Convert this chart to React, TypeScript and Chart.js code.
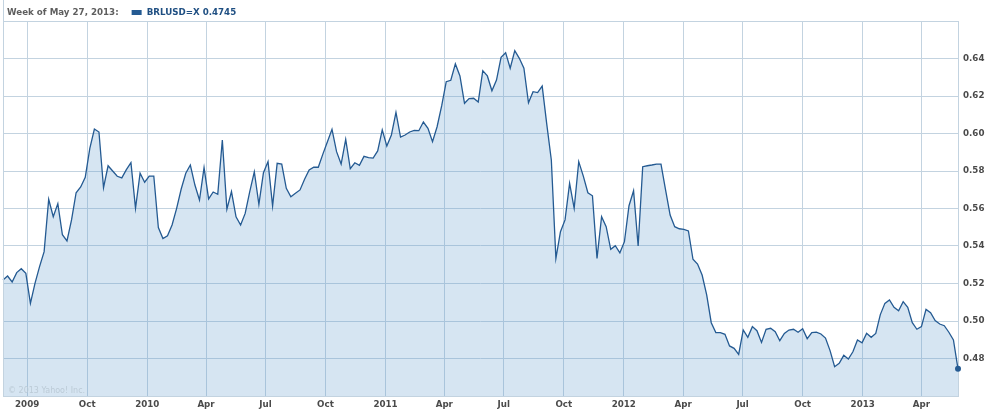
import React, { useEffect, useRef } from "react";
import { Chart, registerables } from "chart.js";

Chart.register(...registerables);

// ---- data ----
const headerDate = "Week of May 27, 2013:";
const seriesName = "BRLUSD=X";
const lastValueText = "0.4745";
const copyright = "\u00A9 2013 Yahoo! Inc.";

// first weekly point: week of May 25, 2009
const startYear = 2009;
const startMonth = 4; // May (0-based)
const startDay = 25;

const values2009 = [
  0.5219, 0.524, 0.5208, 0.5258, 0.5279, 0.5254, 0.5094, 0.5201, 0.529, 0.537,
  0.5649, 0.5556, 0.5626, 0.546, 0.5427, 0.5539, 0.5684, 0.5715, 0.5766, 0.5921,
  0.6024, 0.6008, 0.5711, 0.5828, 0.58, 0.5772, 0.5763, 0.5807, 0.5844, 0.5601,
  0.5788, 0.574,
];
const values2010 = [
  0.5773, 0.5773, 0.5498, 0.544, 0.5455, 0.5512, 0.5601, 0.5704, 0.5788, 0.5832,
  0.5725, 0.5645, 0.5818, 0.5651, 0.5688, 0.5676, 0.5965, 0.5596, 0.569, 0.5556,
  0.5512, 0.5574, 0.569, 0.5796, 0.5622, 0.5791, 0.585, 0.5613, 0.5841, 0.5837,
  0.5708, 0.5663, 0.5681, 0.5699, 0.5756, 0.5805, 0.582, 0.582, 0.589, 0.5956,
  0.6022, 0.5903, 0.5837, 0.5969, 0.5812, 0.5844, 0.583, 0.5878, 0.5871, 0.5869,
  0.5907, 0.6019,
];
const values2011 = [
  0.5933, 0.5992, 0.6113, 0.5981, 0.5992, 0.6008, 0.6017, 0.6015, 0.6061, 0.6028,
  0.5956, 0.6036, 0.6147, 0.6276, 0.6284, 0.6371, 0.6307, 0.6161, 0.6186, 0.6188,
  0.6168, 0.6335, 0.6307, 0.6228, 0.6285, 0.6406, 0.6431, 0.6348, 0.6442, 0.6401,
  0.6348, 0.6164, 0.6223, 0.6218, 0.6253, 0.605, 0.5859, 0.5334, 0.5476, 0.5539,
  0.5734, 0.5601, 0.585, 0.5773, 0.5684, 0.5668, 0.5334, 0.5556, 0.5503, 0.5382,
  0.5402, 0.5364,
];
const values2012 = [
  0.5423, 0.5615, 0.5695, 0.54, 0.5823, 0.5828, 0.5832, 0.5837, 0.5837, 0.5699,
  0.5565, 0.5503, 0.5492, 0.5489, 0.548, 0.5329, 0.5304, 0.5245, 0.5139, 0.4991,
  0.4938, 0.4938, 0.4929, 0.4867, 0.4854, 0.4822, 0.4952, 0.4913, 0.497, 0.4948,
  0.4886, 0.4956, 0.4961, 0.4943, 0.4895, 0.4934, 0.4952, 0.4956, 0.494, 0.4959,
  0.4906, 0.4938, 0.4941, 0.4931, 0.4909, 0.4842, 0.4756, 0.4774, 0.4817, 0.4797,
  0.4836, 0.4899,
];
const values2013 = [
  0.4884, 0.4934, 0.4913, 0.4934, 0.5034, 0.5094, 0.5112, 0.5073, 0.5055, 0.5103,
  0.5073, 0.4991, 0.4956, 0.497, 0.5062, 0.5044, 0.5002, 0.4984, 0.4975, 0.494,
  0.4899, 0.4745,
];

// x-axis gridline dates [year, month(0-based)] and their labels
const tickDates: [number, number][] = [
  [2009, 6], [2009, 9], [2010, 0], [2010, 3], [2010, 6], [2010, 9],
  [2011, 0], [2011, 3], [2011, 6], [2011, 9], [2012, 0], [2012, 3],
  [2012, 6], [2012, 9], [2013, 0], [2013, 3],
];
const tickLabels = [
  "2009", "Oct", "2010", "Apr", "Jul", "Oct", "2011", "Apr", "Jul", "Oct",
  "2012", "Apr", "Jul", "Oct", "2013", "Apr",
];
const yTickValues = [0.46, 0.48, 0.5, 0.52, 0.54, 0.56, 0.58, 0.6, 0.62, 0.64, 0.66];
const yMin = 0.46;
const yMax = 0.66;

// ---- styles ----
const LINE = "#245a92";
const FILL = "rgba(95,155,205,0.26)";
const GRID = "#c3d3e0";
const AXIS_TEXT = "#4a4a4a";
const HEADER_TEXT = "#5e5e5e";
const FONT_FAMILY = "'DejaVu Sans', Verdana, sans-serif";

const W = 993;
const H = 412;

export default function App() {
  const ref = useRef<HTMLCanvasElement | null>(null);

  useEffect(() => {
    const canvas = ref.current;
    if (!canvas) return;
    const DAY = 86400000;
    const start = Date.UTC(startYear, startMonth, startDay);
    const all = [...values2009, ...values2010, ...values2011, ...values2012, ...values2013];
    const points = all.map((v, i) => ({ x: i * 7, y: v }));
    const xMax = (all.length - 1) * 7;
    const tickVals = tickDates.map(([y, m]) => (Date.UTC(y, m, 1) - start) / DAY);
    const lastIndex = all.length - 1;

    const decor = {
      id: "decor",
      afterDraw(chart: any) {
        const ctx = chart.ctx as CanvasRenderingContext2D;
        const area = chart.chartArea;
        const xs = chart.scales.x;
        ctx.save();
        // left frame line
        ctx.strokeStyle = GRID;
        ctx.lineWidth = 1;
        ctx.beginPath();
        ctx.moveTo(Math.round(area.left) + 0.5, 0);
        ctx.lineTo(Math.round(area.left) + 0.5, area.bottom);
        ctx.stroke();

        // x labels
        ctx.font = `bold 8.7px ${FONT_FAMILY}`;
        ctx.fillStyle = AXIS_TEXT;
        ctx.textBaseline = "alphabetic";
        ctx.textAlign = "left";
        tickVals.forEach((v, i) => {
          const px = xs.getPixelForValue(v);
          const text = tickLabels[i];
          const w = ctx.measureText(text).width;
          let left = px - w / 2;
          if (left < area.left + 3) left = area.left + 3;
          ctx.fillText(text, left, area.bottom + 11);
        });

        // watermark
        ctx.font = `8px ${FONT_FAMILY}`;
        ctx.fillStyle = "#bccbd7";
        ctx.fillText(copyright, area.left + 5, area.bottom - 3);

        // header
        ctx.font = `bold 8.7px ${FONT_FAMILY}`;
        ctx.fillStyle = HEADER_TEXT;
        ctx.fillText(headerDate, 7, 15);
        const hw = ctx.measureText(headerDate).width;
        const mx = 7 + hw + 13;
        ctx.fillStyle = LINE;
        ctx.fillRect(mx, 10, 10, 5);
        ctx.fillStyle = "#1f4f82";
        ctx.fillText(`${seriesName} ${lastValueText}`, mx + 15, 15);
        ctx.restore();
      },
    };

    const chart = new Chart(canvas, {
      type: "line",
      data: {
        datasets: [
          {
            data: points,
            borderColor: LINE,
            borderWidth: 1.3,
            backgroundColor: FILL,
            fill: "start",
            tension: 0,
            pointRadius: (c: any) => (c.dataIndex === lastIndex ? 3 : 0),
            pointBackgroundColor: LINE,
            pointBorderWidth: 0,
            pointHoverRadius: 0,
            clip: false as any,
          },
        ],
      },
      options: {
        responsive: false,
        animation: false,
        events: [],
        layout: { padding: { top: 21, left: 3, right: 0, bottom: 0 } },
        plugins: {
          legend: { display: false },
          tooltip: { enabled: false },
          title: { display: false },
        },
        scales: {
          x: {
            type: "linear",
            min: 0,
            max: xMax,
            afterBuildTicks: (s: any) => {
              s.ticks = tickVals.map((v) => ({ value: v }));
            },
            afterFit: (s: any) => {
              s.height = 16;
            },
            ticks: { display: false },
            grid: { color: GRID, drawTicks: false, lineWidth: 1 },
            border: { display: true, color: GRID },
          },
          y: {
            type: "linear",
            position: "right",
            min: yMin,
            max: yMax,
            afterBuildTicks: (s: any) => {
              s.ticks = yTickValues.map((v) => ({ value: v }));
            },
            afterFit: (s: any) => {
              s.width = 35;
            },
            ticks: {
              padding: 5,
              color: AXIS_TEXT,
              font: { family: FONT_FAMILY, size: 8.7, weight: "bold" },
              callback: (v: any) => {
                const n = Number(v);
                return n > yMin + 0.005 && n < yMax - 0.005 ? n.toFixed(2) : "";
              },
            },
            grid: { color: GRID, drawTicks: false, lineWidth: 1 },
            border: { display: true, color: GRID },
          },
        },
      },
      plugins: [decor],
    });
    return () => chart.destroy();
  }, []);

  return (
    <div style={{ position: "fixed", left: 0, top: 0, width: W, height: H, background: "#fff" }}>
      <canvas ref={ref} width={W} height={H} style={{ width: W, height: H, display: "block" }} />
    </div>
  );
}
